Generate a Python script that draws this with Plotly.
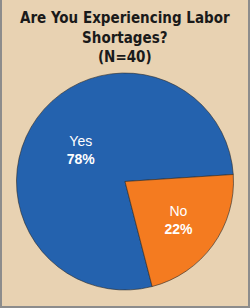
import plotly.graph_objects as go

labels = ["Yes", "No"]
values = [78, 22]
colors = ["#2462AE", "#F47B20"]
title_text = "<b>Are You Experiencing Labor<br>Shortages?<br>(N=40)</b>"

W, H = 250, 308

fig = go.Figure(go.Pie(
    labels=labels,
    values=values,
    sort=False,
    direction="clockwise",
    rotation=165.5,
    marker=dict(colors=colors, line=dict(color="#2a2a2a", width=0.6)),
    texttemplate="%{label}<br><b>%{percent:.0%}</b>",
    textposition="inside",
    insidetextorientation="horizontal",
    textfont=dict(color="white", size=14, family="Liberation Sans, Arial, sans-serif"),
    hoverinfo="skip",
    showlegend=False,
    domain=dict(x=[16.5 / W, 233.5 / W], y=[18 / H, 235 / H]),
))

fig.update_layout(
    width=W, height=H,
    margin=dict(l=0, r=0, t=0, b=0),
    paper_bgcolor="#E8D2B2",
    plot_bgcolor="#E8D2B2",
    annotations=[dict(
        text=title_text, showarrow=False,
        xref="paper", yref="paper", x=0.5, y=1 - 7 / H,
        xanchor="center", yanchor="top", align="center",
        font=dict(family="DejaVu Sans Condensed, Liberation Sans, sans-serif", size=15, color="#1a1a1a"),
    )],
    shapes=[
        dict(type="line", xref="paper", yref="paper", x0=1 / W, x1=1 / W, y0=0, y1=1,
             line=dict(color="#8c8c8c", width=2)),
        dict(type="line", xref="paper", yref="paper", x0=1 - 1 / W, x1=1 - 1 / W, y0=0, y1=1,
             line=dict(color="#8c8c8c", width=2)),
        dict(type="line", xref="paper", yref="paper", x0=0, x1=1, y0=1 / H, y1=1 / H,
             line=dict(color="#8c8c8c", width=2)),
    ],
)

fig.write_html("out.html")
